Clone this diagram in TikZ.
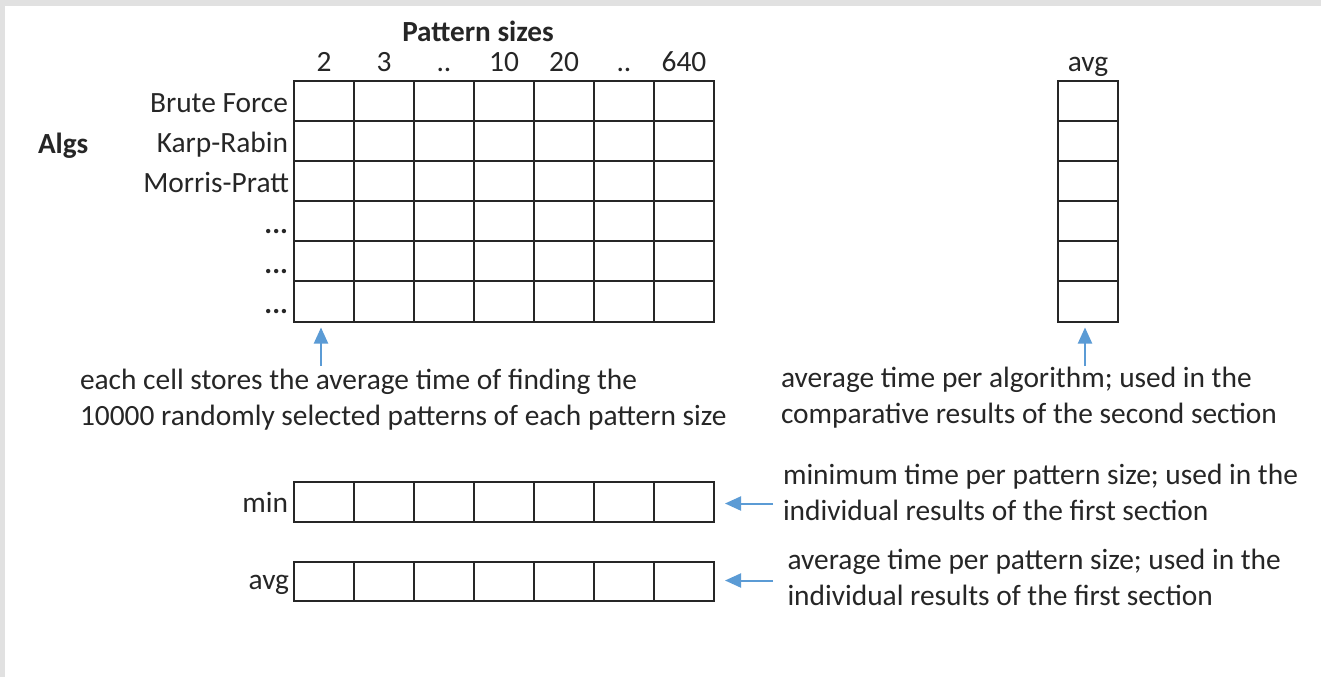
\documentclass[tikz,border=0pt]{standalone}
\usepackage{fontspec}
\setmainfont{Carlito}
\usetikzlibrary{arrows.meta}
\definecolor{ink}{HTML}{262626}
\definecolor{pointerblue}{HTML}{5B9BD5}
\definecolor{framegray}{HTML}{E1E1E1}

\begin{document}
\begin{tikzpicture}[x=1pt,y=-1pt,
  txt/.style={inner sep=0pt, outer sep=0pt, text=ink, font=\fontsize{29.4}{36}\selectfont},
  boldtxt/.style={txt, font=\fontsize{29.2}{36}\selectfont\bfseries},
  tablebox/.style={draw=ink, line width=2pt, inner sep=0pt, outer sep=0pt, anchor=north west},
  cellline/.style={draw=ink, line width=2pt},
  pointer/.style={draw=pointerblue, line width=2pt, -{Triangle[length=16pt,width=14pt]}},
]
% page and frame
\useasboundingbox (0,0) rectangle (1321,677);
\fill[framegray] (0,0) rectangle (1321,677);
\fill[white] (5,6) rectangle (1321,677);

% main table: algorithms x pattern sizes
\node[tablebox, minimum width=420pt, minimum height=241pt] (main) at (294,80.5) {};
\foreach \i in {1,...,6} \draw[cellline] (294+60*\i,80.5) -- (294+60*\i,321.5);
\foreach \j in {1,...,5} \draw[cellline] (294,80.5+40.17*\j) -- (714,80.5+40.17*\j);

% average-per-algorithm column
\node[tablebox, minimum width=60pt, minimum height=241pt] (avgcol) at (1058,80.5) {};
\foreach \j in {1,...,5} \draw[cellline] (1058,80.5+40.17*\j) -- (1118,80.5+40.17*\j);

% min and avg rows
\node[tablebox, minimum width=420pt, minimum height=40pt] (minrow) at (294,482) {};
\foreach \i in {1,...,6} \draw[cellline] (294+60*\i,482) -- (294+60*\i,522);
\node[tablebox, minimum width=420pt, minimum height=39pt] (avgrow) at (294,562) {};
\foreach \i in {1,...,6} \draw[cellline] (294+60*\i,562) -- (294+60*\i,601);

% headings
\node[boldtxt, anchor=base] (ptitle) at (478,41.7) {Pattern sizes};
\node[boldtxt, anchor=base west] (algs) at (38,153) {Algs};
\foreach \lab [count=\k from 0] in {2,3,..,10,20,..,640}
  \node[txt, anchor=base] (h\k) at (324+60*\k,71) {\lab};
\node[txt, anchor=base] (avghead) at (1088,71.5) {avg};

% row labels
\node[txt, anchor=base east] (r1) at (288,112.7) {Brute Force};
\node[txt, anchor=base east] (r2) at (288,152.7) {Karp-Rabin};
\node[txt, anchor=base east] (r3) at (289,192.5) {Morris-Pratt};
\node[txt, anchor=base east] (r4) at (288,233) {\textbf{...}};
\node[txt, anchor=base east] (r5) at (288,273) {\textbf{...}};
\node[txt, anchor=base east] (r6) at (288,313) {\textbf{...}};
\node[txt, anchor=base east] (minlab) at (288,512.7) {min};
\node[txt, anchor=base east] (avglab) at (289,589) {avg};

% notes (a two-line node sits on the baseline of its last line)
\node[txt, align=left, anchor=base west] (note1) at (80,425)
  {each cell stores the average time of finding the\\10000 randomly selected patterns of each pattern size};
\node[txt, align=left, anchor=base west] (note2) at (781,423.3)
  {average time per algorithm; used in the\\comparative results of the second section};
\node[txt, align=left, anchor=base west] (note3) at (783,520)
  {minimum time per pattern size; used in the\\individual results of the first section};
\node[txt, align=left, anchor=base west] (note4) at (787.5,605)
  {average time per pattern size; used in the\\individual results of the first section};

% pointers
\coordinate (p1) at (321,366);
\coordinate (p2) at (1085,366);
\coordinate (p3) at (773,503.5);
\coordinate (p4) at (773,580.5);
\draw[pointer, shorten >=6pt] (p1) -- (p1 |- main.south);
\draw[pointer, shorten >=6pt] (p2) -- (p2 |- avgcol.south);
\draw[pointer, shorten >=11pt] (p3) -- (p3 -| minrow.east);
\draw[pointer, shorten >=11pt] (p4) -- (p4 -| avgrow.east);
\end{tikzpicture}
\end{document}
